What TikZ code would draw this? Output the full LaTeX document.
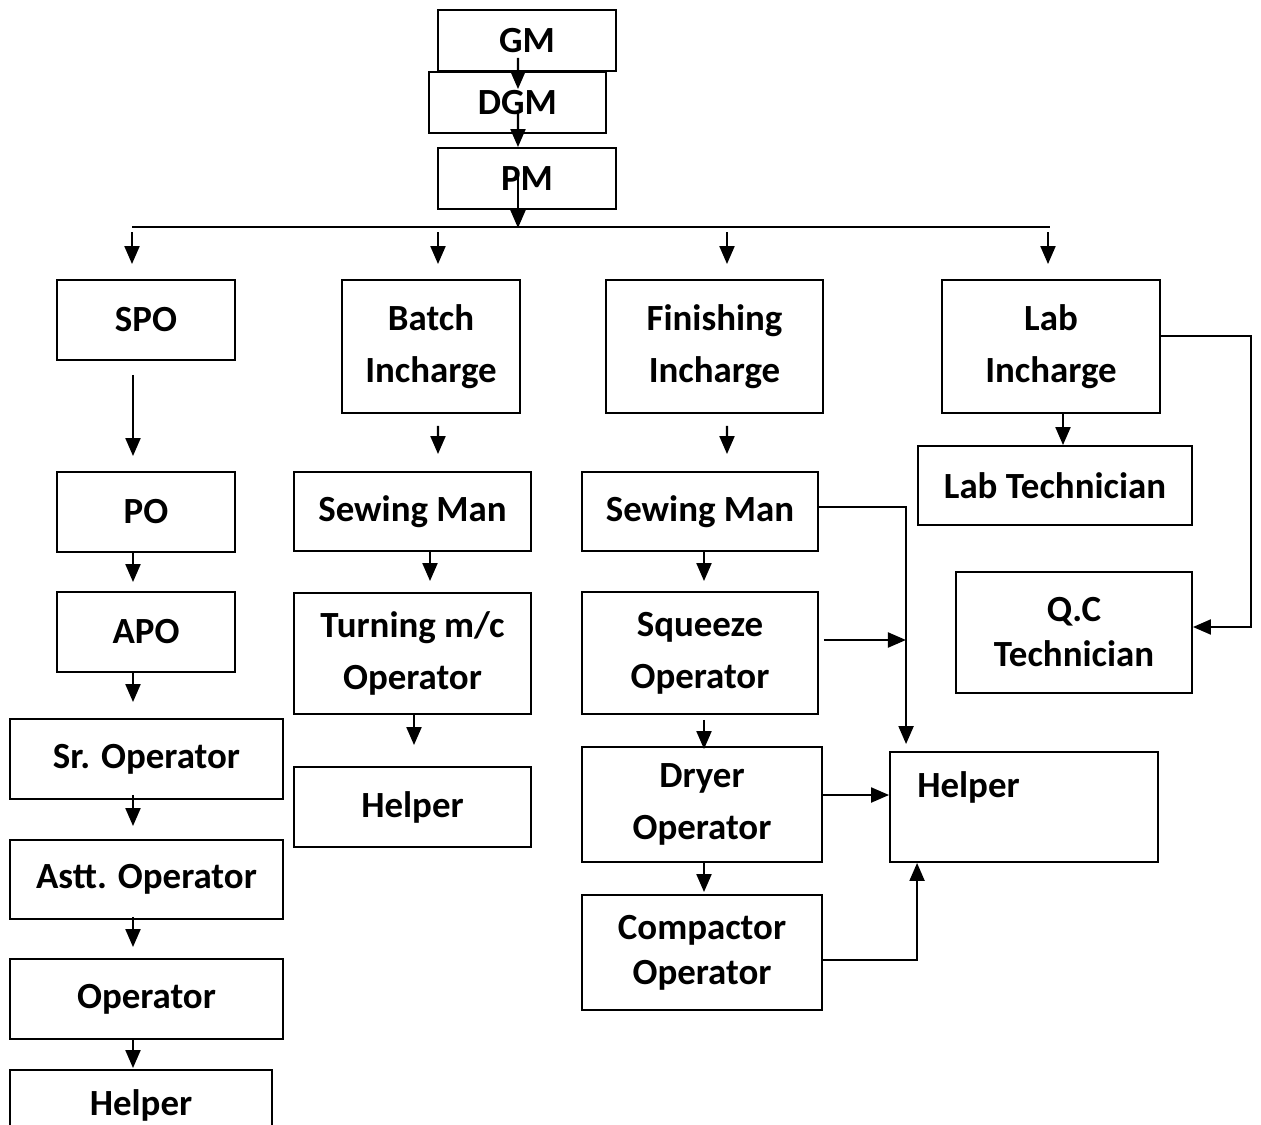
\documentclass[tikz,border=0pt]{standalone}
\usepackage{fontspec}
\setmainfont{Carlito}
\usepackage{tikz}
\usetikzlibrary{arrows.meta,calc,positioning}
\tikzstyle{box}   =[draw, line width=1.1pt, inner sep=0pt, align=center,
                    font=\fontsize{21}{29.6}\selectfont\bfseries]
\tikzstyle{tight} =[font=\fontsize{21}{25.6}\selectfont\bfseries]
\tikzstyle{arr}   =[line width=1.2pt,
                    -{Triangle[length=0.36cm, width=0.3cm]}]
\tikzstyle{wire}  =[line width=1.2pt]

\begin{document}
\begin{tikzpicture}
    \begin{scope}[x=0.02cm, y=-0.02cm]
        \useasboundingbox (0,0) rectangle (1261,1125);
        \clip (0,0) rectangle (1261,1125);

        % top of the chart
        \draw (527,40.5) node (gm) [box, minimum width=3.56cm, minimum height=1.22cm] {GM};
        \draw (517.5,102.5) node (dgm) [box, minimum width=3.54cm, minimum height=1.22cm] {DGM};
        \draw (527,178.5) node (pm) [box, minimum width=3.56cm, minimum height=1.22cm] {PM};

        \draw [arr] ($(gm.south)+(-9,-14)$) to ($(dgm.north)+(0.5,18)$);
        \draw [arr] ($(dgm.center)+(0.5,7.5)$) to ($(pm.north)+(-9,0)$);
        \draw [arr] ($(pm.center)+(-9,-3.5)$) to ($(pm.south)+(-9,18)$);
        \coordinate (railL) at (132,227);
        \coordinate (railR) at (1050,227);
        \draw [wire] (railL) -- (railR);

        % left column
        \draw (146,320) node (spo) [box, minimum width=3.56cm, minimum height=1.6cm] {SPO};
        \draw (146,512) node (po) [box, minimum width=3.56cm, minimum height=1.6cm] {PO};
        \draw (146,632) node (apo) [box, minimum width=3.56cm, minimum height=1.6cm] {APO};
        \draw (146.5,759) node (sr) [box, minimum width=5.46cm, minimum height=1.6cm] {Sr. Operator};
        \draw (146.5,879.5) node (astt) [box, minimum width=5.46cm, minimum height=1.58cm] {Astt. Operator};
        \draw (146.5,999) node (oper) [box, minimum width=5.46cm, minimum height=1.6cm] {Operator};
        \draw (141,1105) node (helpA) [box, minimum width=5.24cm, minimum height=1.4cm] {Helper};

        % batch column
        \draw (431,346.5) node (batch) [box, minimum width=3.56cm, minimum height=2.66cm] {Batch\\Incharge};
        \draw (412.5,511.5) node (sewB) [box, minimum width=4.74cm, minimum height=1.58cm] {Sewing Man};
        \draw (412.5,653.5) node (turn) [box, minimum width=4.74cm, minimum height=2.42cm] {Turning m/c\\Operator};
        \draw (412.5,807) node (helpB) [box, minimum width=4.74cm, minimum height=1.6cm] {Helper};

        % finishing column
        \draw (714.5,346.5) node (fin) [box, minimum width=4.34cm, minimum height=2.66cm] {Finishing\\Incharge};
        \draw (700,511.5) node (sewF) [box, minimum width=4.72cm, minimum height=1.58cm] {Sewing Man};
        \draw (700,653) node (squeeze) [box, minimum width=4.72cm, minimum height=2.44cm] {Squeeze\\Operator};
        \draw (702,804.5) node (dryer) [box, minimum width=4.8cm, minimum height=2.3cm] {Dryer\\Operator};
        \draw (702,952.5) node (compact) [box, tight, minimum width=4.8cm, minimum height=2.3cm] {Compactor\\Operator};

        % lab column
        \draw (1051,346.5) node (lab) [box, minimum width=4.36cm, minimum height=2.66cm] {Lab\\Incharge};
        \draw (1055,485.5) node (labtech) [box, minimum width=5.48cm, minimum height=1.58cm] {Lab Technician};
        \draw (1074,632.5) node (qc) [box, tight, minimum width=4.72cm, minimum height=2.42cm] {Q.C\\Technician};
        \draw (1024,807) node (helpF) [box, minimum width=5.36cm, minimum height=2.2cm,
            label={[anchor=west, xshift=0.44cm, yshift=0.4cm,
                    font=\fontsize{21}{29.6}\selectfont\bfseries]west:Helper}] {};

        % from the rail down to each section
        \foreach \n/\d in {spo/-14, batch/7, fin/12.5, lab/-3}
            \draw [arr] ($(\n.north)+(\d,-47)$) to ($(\n.north)+(\d,-15)$);

        \draw [arr] ($(spo.south)+(-13,14)$) to ($(po.north)+(-13,-15)$);
        \draw [arr] ($(po.south)+(-13,0)$) to ($(apo.north)+(-13,-9)$);
        \draw [arr] ($(apo.south)+(-13,0)$) to ($(sr.north)+(-13.5,-16)$);
        \draw [arr] ($(sr.south)+(-13.5,-5)$) to ($(astt.north)+(-13.5,-13)$);
        \draw [arr] ($(astt.south)+(-13.5,-3)$) to ($(oper.north)+(-13.5,-11)$);
        \draw [arr] ($(oper.south)+(-13.5,0)$) to ($(helpA.north)+(-8,-1)$);

        \draw [arr] ($(batch.south)+(7,12)$) to ($(sewB.north)+(25.5,-17)$);
        \draw [arr] ($(sewB.south)+(17.5,0)$) to ($(turn.north)+(17.5,-11)$);
        \draw [arr] ($(turn.south)+(1.5,0)$) to ($(helpB.north)+(1.5,-21)$);

        \draw [arr] ($(fin.south)+(12.5,12)$) to ($(sewF.north)+(27,-17)$);
        \draw [arr] ($(sewF.south)+(4,0)$) to ($(squeeze.north)+(4,-10)$);
        \draw [arr] ($(squeeze.south)+(4,5)$) to ($(dryer.north)+(2,3)$);
        \draw [arr] ($(dryer.south)+(2,0)$) to ($(compact.north)+(2,-2)$);

        \draw [arr] ($(lab.south)+(12,0)$) to ($(labtech.north)+(8,0)$);
        \draw [arr] ($(lab.east)+(0,-10.5)$) -- ++(90,0) |- ($(qc.east)+(0,-5.5)$);

        % side links into the helper
        \draw [arr] ($(sewF.east)+(0,-4.5)$) -| ($(helpF.north west)+(17,-7)$);
        \draw [arr] ($(squeeze.east)+(5,-13)$) to ($(squeeze.east)+(87,-13)$);
        \draw [arr] ($(dryer.east)+(0,-9.5)$) to ($(helpF.west)+(0,-12)$);
        \draw [arr] ($(compact.east)+(0,7.5)$) -| ($(helpF.south west)+(28,0)$);
    \end{scope}
\end{tikzpicture}
\end{document}
